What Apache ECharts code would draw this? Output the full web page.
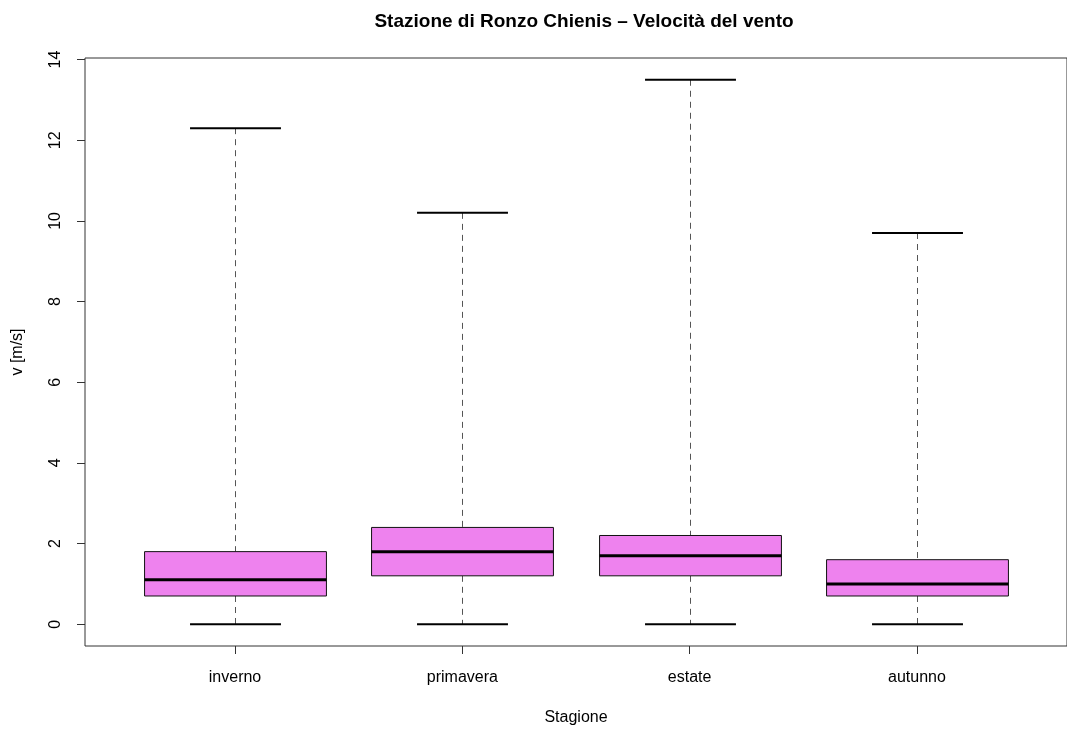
<!DOCTYPE html>
<html>
<head>
<meta charset="utf-8">
<script src="https://cdn.jsdelivr.net/npm/echarts@6/dist/echarts.min.js"></script>
<style>html,body{margin:0;padding:0;background:#fff}#c{width:1067px;height:731px}</style>
</head>
<body>
<div id="c"></div>
<script>
const categories = ['inverno', 'primavera', 'estate', 'autunno'];
const mins    = [0, 0, 0, 0];
const q1s     = [0.7, 1.2, 1.2, 0.7];
const medians = [1.1, 1.8, 1.7, 1.0];
const q3s     = [1.8, 2.4, 2.2, 1.6];
const maxs    = [12.3, 10.2, 13.5, 9.7];
const yTicks  = [0, 2, 4, 6, 8, 10, 12, 14];
const xTicks  = [1, 2, 3, 4];

const data = categories.map((c, i) => [i + 1, mins[i], q1s[i], medians[i], q3s[i], maxs[i]]);

const FONT = 'Liberation Sans, Arial, sans-serif';
const chart = echarts.init(document.getElementById('c'), null, {renderer: 'canvas'});

function renderItem(params, api) {
  const x = api.value(0);
  const vmin = api.value(1), vq1 = api.value(2), vmed = api.value(3), vq3 = api.value(4), vmax = api.value(5);
  const halfBox = api.size([0.4, 0])[0];
  const halfCap = api.size([0.2, 0])[0];
  const pMin = api.coord([x, vmin]);
  const pQ1 = api.coord([x, vq1]);
  const pMed = api.coord([x, vmed]);
  const pQ3 = api.coord([x, vq3]);
  const pMax = api.coord([x, vmax]);
  const cx = Math.round(pMin[0]) + 0.5;
  const dash = {stroke: '#555', lineWidth: 1, lineDash: [6, 5]};
  return {
    type: 'group',
    children: [
      {type: 'line', shape: {x1: cx, y1: pMax[1], x2: cx, y2: pQ3[1]}, style: dash},
      {type: 'line', shape: {x1: cx, y1: pQ1[1], x2: cx, y2: pMin[1]}, style: dash},
      {type: 'line', shape: {x1: cx - halfCap, y1: pMax[1], x2: cx + halfCap, y2: pMax[1]}, style: {stroke: '#000', lineWidth: 2}},
      {type: 'line', shape: {x1: cx - halfCap, y1: pMin[1], x2: cx + halfCap, y2: pMin[1]}, style: {stroke: '#000', lineWidth: 2}},
      {type: 'rect', shape: {x: cx - halfBox, y: pQ3[1], width: 2 * halfBox, height: pQ1[1] - pQ3[1]},
        style: {fill: '#EE82EE', stroke: '#111', lineWidth: 1}},
      {type: 'line', shape: {x1: cx - halfBox, y1: pMed[1], x2: cx + halfBox, y2: pMed[1]}, style: {stroke: '#000', lineWidth: 3}}
    ]
  };
}

chart.setOption({
  animation: false,
  backgroundColor: '#fff',
  textStyle: {fontFamily: FONT},
  title: {
    text: 'Stazione di Ronzo Chienis – Velocità del vento',
    left: 579, top: 7, textAlign: 'center',
    textStyle: {fontFamily: FONT, fontSize: 19, fontWeight: 'bold', color: '#000'}
  },
  grid: {left: 85, top: 58, width: 988, height: 589, show: true, borderColor: '#333', borderWidth: 1, backgroundColor: 'transparent'},
  xAxis: {
    type: 'value', min: 0.34, max: 4.66,
    name: 'Stagione', nameLocation: 'middle', nameGap: 64,
    nameTextStyle: {fontFamily: FONT, fontSize: 16, color: '#000'},
    axisLine: {show: false, onZero: false},
    splitLine: {show: false},
    axisTick: {show: true, customValues: xTicks, length: 8, inside: false, lineStyle: {color: '#333'}},
    axisLabel: {customValues: xTicks, margin: 24, fontFamily: FONT, fontSize: 16, color: '#000',
      formatter: v => categories[Math.round(v) - 1] || ''}
  },
  yAxis: {
    type: 'value', min: -0.54, max: 14.04,
    name: 'v [m/s]', nameLocation: 'middle', nameGap: 59,
    nameTextStyle: {fontFamily: FONT, fontSize: 16, color: '#000'},
    axisLine: {show: false, onZero: false},
    splitLine: {show: false},
    axisTick: {show: true, customValues: yTicks, length: 8, lineStyle: {color: '#333'}},
    axisLabel: {customValues: yTicks, rotate: 90, margin: 21, fontFamily: FONT, fontSize: 16, color: '#000'}
  },
  series: [{
    type: 'custom',
    renderItem: renderItem,
    encode: {x: 0, y: [1, 2, 3, 4, 5]},
    data: data,
    clip: false
  }]
});
</script>
</body>
</html>
